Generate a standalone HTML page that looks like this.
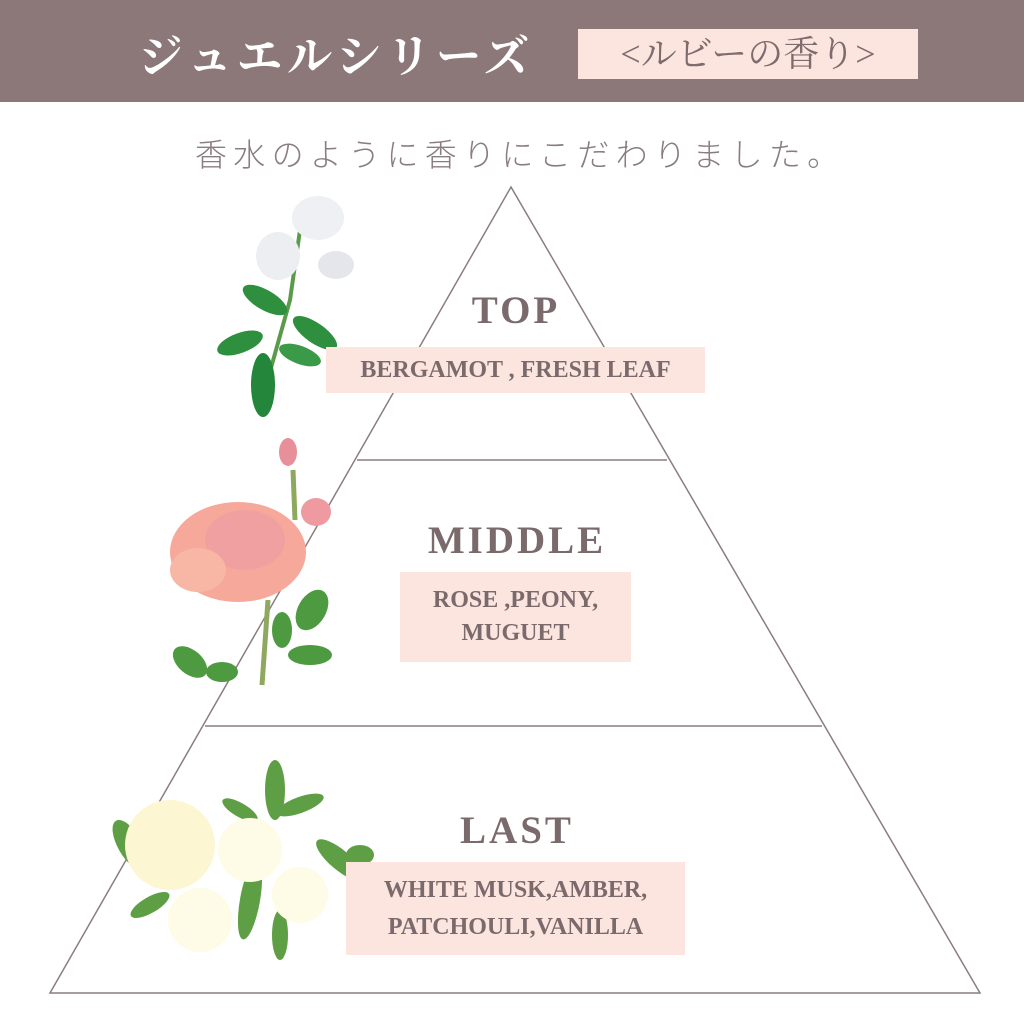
<!DOCTYPE html>
<html><head><meta charset="utf-8"><style>
html,body{margin:0;padding:0;background:#fff;}
body{width:1024px;height:1022px;position:relative;overflow:hidden;font-family:"Liberation Serif","Noto Serif CJK SC",serif;}
.hdr{position:absolute;left:0;top:0;width:1024px;height:102px;background:#8c7779;}
.t1{position:absolute;left:138px;top:20px;font-size:45px;color:#fff;font-weight:bold;letter-spacing:5px;white-space:nowrap;}
.pk{position:absolute;left:578px;top:29px;width:340px;height:50px;background:#fce4df;color:#7d6b6d;font-size:36px;line-height:50px;text-align:center;white-space:nowrap;}
.sub{position:absolute;left:195px;top:130px;font-size:32px;color:#8a7d7f;letter-spacing:6.3px;white-space:nowrap;font-family:"Liberation Sans","Noto Sans CJK JP",sans-serif;font-weight:300;}
.lbl{position:absolute;color:#7b6a6c;font-weight:bold;letter-spacing:3px;font-size:39px;text-align:center;}
.box{position:absolute;background:#fce4df;color:#7b6a6c;font-weight:bold;text-align:center;font-size:24px;white-space:nowrap;}
</style></head><body>
<div class="hdr"></div>
<div class="t1">ジュエルシリーズ</div>
<div class="pk">&lt;ルビーの香り&gt;</div>
<div class="sub">香水のように香りにこだわりました。</div>
<svg width="1024" height="1022" style="position:absolute;left:0;top:0">
<g stroke="#8c7d7f" stroke-width="1.5" fill="none">
<polygon points="511,187 50,993 980,993"/>
<line x1="357" y1="460" x2="667" y2="460"/>
<line x1="205" y1="726" x2="822" y2="726"/>
</g>
<g>
<path d="M300,230 L290,300 L262,400" stroke="#5a9a4a" stroke-width="4" fill="none"/>
<ellipse cx="318" cy="218" rx="26" ry="22" fill="#eef0f3"/>
<ellipse cx="278" cy="256" rx="22" ry="24" fill="#eceef2"/>
<ellipse cx="336" cy="265" rx="18" ry="14" fill="#e4e6ec"/>
<ellipse cx="265" cy="300" rx="25" ry="10" fill="#2e8f3e" transform="rotate(30 265 300)"/>
<ellipse cx="315" cy="333" rx="26" ry="10" fill="#2e8f3e" transform="rotate(35 315 333)"/>
<ellipse cx="240" cy="343" rx="24" ry="10" fill="#2e8f3e" transform="rotate(-20 240 343)"/>
<ellipse cx="300" cy="355" rx="22" ry="9" fill="#3a9a48" transform="rotate(20 300 355)"/>
<ellipse cx="263" cy="385" rx="12" ry="32" fill="#23863a"/>
</g>
<g>
<path d="M293,470 L295,520 M268,600 L262,685" stroke="#8fa860" stroke-width="5" fill="none"/>
<ellipse cx="288" cy="452" rx="9" ry="14" fill="#e8909a"/>
<ellipse cx="316" cy="512" rx="15" ry="14" fill="#ee9aa0"/>
<ellipse cx="238" cy="552" rx="68" ry="50" fill="#f6a89a"/>
<ellipse cx="245" cy="540" rx="40" ry="30" fill="#f0a0a0"/>
<ellipse cx="198" cy="570" rx="28" ry="22" fill="#f8b6a4"/>
<ellipse cx="312" cy="610" rx="14" ry="22" fill="#4e9a40" transform="rotate(30 312 610)"/>
<ellipse cx="282" cy="630" rx="10" ry="18" fill="#4e9a40"/>
<ellipse cx="310" cy="655" rx="22" ry="10" fill="#4e9a40"/>
<ellipse cx="190" cy="662" rx="20" ry="12" fill="#4e9a40" transform="rotate(40 190 662)"/>
<ellipse cx="222" cy="672" rx="16" ry="10" fill="#4e9a40"/>
</g>
<g>
<g fill="#5e9e44">
<ellipse cx="275" cy="790" rx="10" ry="30"/>
<ellipse cx="130" cy="845" rx="12" ry="28" transform="rotate(-30 130 845)"/>
<ellipse cx="250" cy="900" rx="10" ry="40" transform="rotate(10 250 900)"/>
<ellipse cx="340" cy="860" rx="30" ry="10" transform="rotate(40 340 860)"/>
<ellipse cx="360" cy="855" rx="14" ry="10"/>
<ellipse cx="150" cy="905" rx="22" ry="8" transform="rotate(-30 150 905)"/>
<ellipse cx="300" cy="805" rx="25" ry="8" transform="rotate(-20 300 805)"/>
<ellipse cx="240" cy="810" rx="20" ry="7" transform="rotate(30 240 810)"/>
<ellipse cx="280" cy="935" rx="8" ry="25"/>
</g>
<g fill="#fdf6d2">
<circle cx="170" cy="845" r="45"/>
<circle cx="250" cy="850" r="32" fill="#fefbe6"/>
<circle cx="200" cy="920" r="32" fill="#fefbe6"/>
<circle cx="300" cy="895" r="28" fill="#fefbe6"/>
</g>
</g>
</svg>
<div class="lbl" style="left:416px;top:288px;width:200px;">TOP</div>
<div class="box" style="left:326px;top:347px;width:379px;height:46px;line-height:46px;">BERGAMOT , FRESH LEAF</div>
<div class="lbl" style="left:397px;top:518px;width:240px;">MIDDLE</div>
<div class="box" style="left:400px;top:572px;width:231px;height:90px;line-height:33px;padding-top:12px;box-sizing:border-box;">ROSE ,PEONY,<br>MUGUET</div>
<div class="lbl" style="left:417px;top:808px;width:200px;">LAST</div>
<div class="box" style="left:346px;top:862px;width:339px;height:93px;line-height:37px;padding-top:10px;box-sizing:border-box;">WHITE MUSK,AMBER,<br>PATCHOULI,VANILLA</div>
</body></html>
